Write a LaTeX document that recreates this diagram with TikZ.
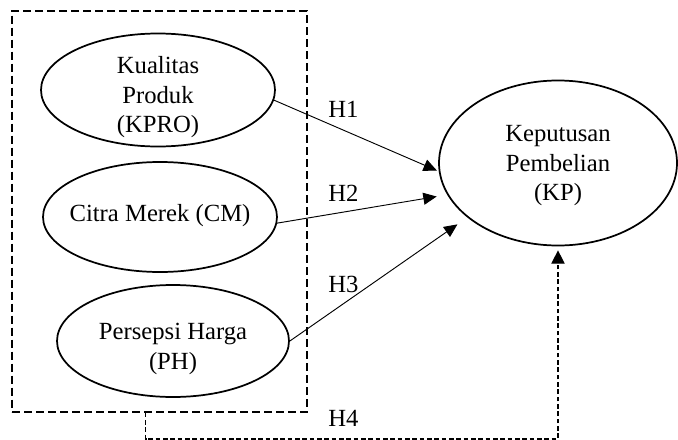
\documentclass[tikz,border=0pt]{standalone}
\usepackage{fontspec}
\setmainfont{Liberation Serif}
\usetikzlibrary{arrows.meta,positioning,calc,shapes.geometric}

\begin{document}
\begin{tikzpicture}[
			x=0.75pt, y=0.75pt, % 1 unit = 1 px
			var/.style={ellipse,draw=black,line width=1.3pt,inner sep=0pt},
			txt/.style={font=\fontsize{18.5}{22}\selectfont,align=center,inner sep=0pt},
			hyp/.style={font=\fontsize{18.5}{22}\selectfont,inner sep=0pt,anchor=base west},
			arr/.style={-{Triangle[length=10pt,width=9pt]},line width=0.7pt}]
		\useasboundingbox (0,0) rectangle (678,-439);
		\path 	(159.5,-211) node 	(grp) [draw=black,line width=1.5pt,dash pattern=on 6pt off 3pt,minimum width=221.25pt,minimum height=300.75pt] {}
		        (158,-90)  node 	(kpro) [var,minimum width=175.5pt,minimum height=84.75pt,label={[txt,yshift=-5.5pt]center:Kualitas\\Produk\\(KPRO)}] {}
		        (160,-217) node 	(cm) [var,minimum width=175.5pt,minimum height=82.5pt,label={[txt,yshift=1pt]center:Citra Merek (CM)}] {}
		        (173,-341) node 	(ph) [var,minimum width=174pt,minimum height=84pt,label={[txt,yshift=-6pt]center:Persepsi Harga\\(PH)}] {}
		        (558,-163) node 	(kp) [var,minimum width=178.5pt,minimum height=123.75pt,label={[txt,yshift=-2pt]center:Keputusan\\Pembelian\\(KP)}] {};
		\path 	(328,-117) node (h1) [hyp] {H1}
		        (328,-201) node (h2) [hyp] {H2}
		        (328,-292) node (h3) [hyp] {H3}
		        (328,-426) node (h4) [hyp] {H4};
		\draw [arr,shorten >=1.5pt] (kpro.-5) -- (kp.184);
		\draw [arr,shorten >=8pt] (cm.-3) -- (kp.196);
		\draw [arr,shorten >=9pt] (ph.east) -- (kp.211);
		\draw [-{Triangle[length=10pt,width=10pt]},line width=1pt,dash pattern=on 3.5pt off 2pt,shorten >=3pt]
		      ([xshift=-10.5pt]grp.south) -- ++(0,-26.5) -| (kp.south);
	\end{tikzpicture}
\end{document}
